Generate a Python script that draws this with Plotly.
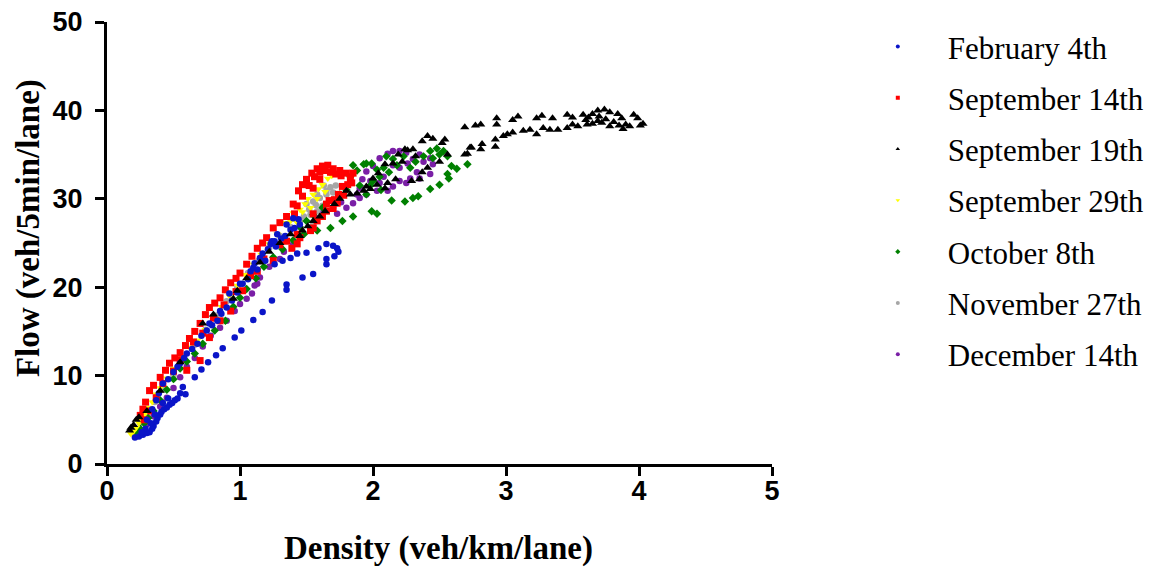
import plotly.graph_objects as go

# ---------------- data (density veh/km/lane, flow veh/5min/lane) ----------------
feb4_x = [0.21,0.24,0.27,0.30,0.32,0.34,0.35,0.37,0.38,0.40,0.41,0.43,0.45,0.47,0.49,0.51,0.53,0.55,0.57,0.42,0.46,0.36,0.33,0.29,0.26,
          0.59,0.66,0.71,0.76,0.82,0.87,0.96,1.01,1.10,1.17,1.24,1.35,1.35,1.47,1.55,1.65,1.65,1.71,1.74,1.73,1.70,1.65,1.59,1.50,1.43,1.38,1.32,1.26,
          0.30,0.34,0.37,0.39,0.42,0.46,0.50,0.53,0.55,0.58,0.60,0.64,0.68,0.71,0.75,0.77,0.79,0.83,0.85,0.86,0.90,0.92,0.94,0.98,1.00,1.02,1.06,1.08,
          1.10,1.11,1.15,1.17,1.21,1.23,1.24,1.26,1.28,1.31,1.34,1.35,1.38,1.41,1.40,1.44,1.45,1.19,1.13,1.27]
feb4_y = [3.0,3.1,3.3,3.5,3.6,4.0,4.3,4.8,5.2,5.6,5.9,6.2,6.4,6.7,6.9,7.2,7.4,8.0,8.7,6.9,7.4,5.6,4.6,4.0,3.6,
          7.9,9.8,10.7,11.5,12.3,13.1,14.3,15.1,16.3,17.2,18.5,19.7,20.3,21.1,21.5,22.6,23.2,23.5,24.0,24.4,24.7,24.9,24.4,23.9,23.8,23.3,23.0,22.6,
          5.0,6.2,7.2,8.0,9.1,9.6,10.4,11.0,11.4,12.0,12.5,13.0,13.6,14.5,15.1,15.9,15.7,16.2,17.3,17.0,17.7,19.3,18.5,19.4,20.4,20.4,20.9,21.8,
          22.2,22.7,23.3,23.8,24.3,24.9,25.2,25.2,26.0,25.5,25.8,27.1,26.5,26.7,27.8,27.7,27.1,23.0,22.0,24.6]

sep14_x = [0.25,0.27,0.29,0.32,0.35,0.40,0.44,0.47,0.51,0.55,0.59,0.62,0.66,0.70,0.74,0.77,0.81,0.85,0.89,0.93,0.97,1.00,1.05,1.09,1.13,1.17,1.20,1.25,1.30,1.35,1.40,1.44,
           1.41,1.43,1.47,1.47,1.50,1.54,1.58,1.62,1.66,1.70,1.75,1.80,1.83,1.84,1.81,1.77,1.74,1.73,1.70,1.65,1.62,1.58,1.55,1.53,1.45,1.43,1.39,
           1.52,1.56,1.60,1.64,1.68,1.72,1.76,1.60,1.55,1.67,1.71,1.78,1.85,
           0.42,0.60,0.70,0.77,0.85,0.93,1.02,1.13,1.25,1.35,1.43,1.55,1.65,1.73,0.28,0.33,0.37,0.50,0.55,0.65,0.72,0.80,0.88,0.97,1.08,1.18,1.30]
sep14_y = [5.5,6.2,7.0,8.3,8.9,9.8,10.6,11.4,12.0,12.6,13.4,14.2,15.0,15.9,16.9,17.7,18.2,18.8,19.7,20.5,21.0,21.6,22.6,23.5,24.4,25.0,25.6,26.7,27.3,28.0,29.4,30.9,
           28.3,29.2,30.3,31.6,32.2,32.9,33.4,33.7,33.8,33.4,33.2,32.9,32.3,31.8,31.6,31.4,30.5,29.5,28.9,28.6,28.0,27.5,26.7,26.4,25.6,24.9,24.4,
           31.5,32.5,33.0,33.2,33.0,32.8,32.6,32.2,31.2,29.8,29.9,30.4,32.9,
           9.1,10.6,11.7,14.3,16.2,17.3,19.6,21.8,23.0,25.2,26.0,28.3,29.4,29.7,5.0,6.0,7.5,10.5,11.8,13.8,14.8,16.5,18.0,19.5,21.3,23.2,24.8]

sep19_x = [0.17,0.18,0.20,0.22,0.24,0.30,0.40,0.55,0.72,0.80,0.95,0.98,1.05,1.15,1.22,1.30,1.38,1.45,1.47,1.51,1.55,1.60,1.64,1.71,1.75,1.80,1.83,1.88,1.93,1.95,
           1.98,2.03,2.00,2.04,2.09,2.11,2.17,2.09,2.15,2.19,2.22,2.24,2.29,2.35,2.37,2.41,2.26,2.30,2.32,2.37,2.41,2.45,2.50,2.52,2.54,2.56,2.69,2.71,2.73,2.74,
           2.81,2.82,2.92,2.92,2.98,3.01,3.05,3.13,3.18,3.23,3.28,3.33,3.39,3.46,3.50,3.54,3.61,3.65,3.69,2.69,2.77,2.81,2.93,2.93,3.05,3.09,3.23,3.27,3.35,
           3.46,3.50,3.58,3.62,3.65,3.69,3.74,3.78,3.84,3.87,3.90,3.96,3.99,4.03,4.01,3.93,3.85,3.81,3.75,3.70,3.72,3.60,3.78,3.88]
sep19_y = [3.8,4.1,4.4,5.0,5.3,6.0,8.3,11.5,15.9,16.9,18.7,19.6,21.0,22.8,24.0,25.0,26.0,25.8,26.4,26.9,27.5,28.0,28.6,29.4,30.0,30.9,30.5,30.6,30.9,31.4,
           31.1,31.6,32.3,32.9,31.2,31.8,32.2,33.9,34.0,35.0,34.2,35.6,32.0,32.2,33.0,33.5,35.5,35.6,34.8,36.5,37.1,36.8,34.2,36.3,36.7,35.0,35.0,35.1,35.8,35.8,
           35.6,36.2,35.9,36.7,37.1,37.3,37.5,37.7,37.8,37.3,38.0,37.8,37.8,38.0,38.4,38.2,38.4,38.5,38.8,38.1,38.3,38.4,39.1,38.4,38.9,39.3,39.1,39.4,39.1,
           39.5,39.2,39.5,39.2,39.6,40.0,40.1,39.8,39.6,39.1,38.4,39.5,39.1,38.5,38.3,38.2,38.3,38.7,39.0,39.3,38.6,38.9,38.2,37.9]

sep29_x = [0.18,0.20,0.22,0.24,0.26,0.28,0.31,0.34,0.37,0.40,0.45,0.50,0.56,0.62,0.68,0.74,0.80,0.86,0.92,0.98,1.04,1.10,1.16,1.22,1.28,1.34,1.40,
           1.43,1.45,1.49,1.51,1.55,1.59,1.62,1.66,1.69,1.64,1.58,1.53,1.47,1.38]
sep29_y = [3.4,3.7,4.1,4.6,5.0,5.6,6.4,7.0,7.9,8.6,9.7,10.8,12.2,13.2,14.0,15.2,16.5,17.8,19.0,20.2,21.4,22.6,23.7,24.9,26.0,27.3,28.4,
           27.3,28.8,29.4,30.0,30.5,31.1,31.6,32.3,32.6,30.8,30.0,29.0,28.5,27.5]

oct8_x = [0.22,0.25,0.28,0.31,0.35,0.40,0.45,0.50,0.55,0.60,0.66,0.72,0.81,0.89,0.95,1.00,1.05,1.12,1.18,1.25,1.32,1.40,1.48,1.58,1.68,1.77,1.85,1.99,2.03,
          2.14,2.24,2.30,2.34,2.43,2.50,2.56,2.57,2.63,2.59,2.71,2.56,2.53,2.48,2.43,2.38,2.32,2.23,2.10,1.99,1.93,1.85,1.95,2.03,2.05,2.00,1.98,2.08,2.12,
          2.06,1.95,1.90,1.80,1.75,1.70,1.62,1.55,1.50,1.45,2.18,2.15,2.28,2.45,2.50,1.88,1.83]
oct8_y = [3.6,4.0,4.6,5.2,6.0,7.2,8.4,9.6,10.8,11.6,12.5,13.6,15.1,16.2,17.8,18.8,19.8,21.0,22.3,23.4,24.3,25.3,26.0,26.4,26.7,27.5,28.0,28.6,28.3,
          29.8,29.7,30.1,30.3,31.1,31.6,32.8,32.3,33.4,33.7,33.9,34.8,35.4,35.7,35.4,34.8,34.2,34.8,34.8,34.0,33.9,33.8,34.0,33.3,32.5,32.0,31.5,33.5,33.0,
          31.0,30.5,31.5,31.0,30.5,29.8,29.0,28.2,27.5,26.8,33.8,34.5,33.5,34.6,35.0,33.2,32.5]

nov27_x = [0.20,0.25,0.30,0.36,0.42,0.50,0.58,0.66,0.74,0.82,0.90,0.98,1.06,1.14,1.22,1.30,1.38,1.45,1.50,1.53,1.55,1.55,1.58,1.58,1.60,1.62,1.65,1.65,
           1.68,1.70,1.52,1.48,1.72,1.63,1.57]
nov27_y = [3.6,4.6,5.8,7.0,8.4,10.0,11.8,13.5,15.2,16.8,18.4,20.0,21.6,23.0,24.5,25.8,26.8,27.5,29.4,28.2,27.1,29.7,28.6,30.5,30.1,29.2,30.5,30.9,
           31.3,30.7,28.8,28.0,31.5,31.5,29.3]

dec14_x = [0.30,0.35,0.40,0.45,0.50,0.55,0.60,0.66,0.72,0.78,0.85,0.90,0.96,1.00,1.05,1.09,1.11,1.13,1.15,1.22,1.30,1.33,1.40,1.45,1.55,1.58,1.62,1.73,
           1.80,1.85,1.90,1.95,2.03,2.11,2.15,2.20,2.28,2.35,2.43,2.45,2.43,2.35,2.26,2.20,2.15,2.11,2.15,2.20,2.05,2.00,1.95,1.92,1.90,1.88,2.25,2.30,
           2.38,2.08,2.05,1.98,2.25,2.33,1.70,1.76]
dec14_y = [4.5,5.4,6.5,7.5,8.6,9.8,11.0,12.0,13.3,14.5,15.4,16.2,17.3,18.1,18.7,19.3,20.2,20.4,21.1,22.3,23.2,24.0,24.9,25.8,26.9,27.8,28.4,28.3,
           29.0,29.5,30.1,30.5,30.9,30.9,31.4,32.0,32.3,32.3,32.8,33.9,34.6,35.0,34.0,33.5,33.8,35.1,35.4,35.4,34.6,33.7,33.1,32.2,31.2,30.5,35.2,34.5,
           34.2,32.5,31.8,32.0,31.8,33.0,29.0,29.6]

x_ticks = [0, 1, 2, 3, 4, 5]
y_ticks = [0, 10, 20, 30, 40, 50]
x_title = "Density (veh/km/lane)"
y_title = "Flow (veh/5min/lane)"

# ---------------- series styling ----------------
series = [
    # name, x, y, color, symbol, size, legend rank, draw order
    ("February 4th", feb4_x, feb4_y, "#0A14C8", "circle", 6.5, 1, 6),
    ("September 14th", sep14_x, sep14_y, "#FF0000", "square", 7, 2, 5),
    ("September 19th", sep19_x, sep19_y, "#000000", "triangle-up", 8, 3, 7),
    ("September 29th", sep29_x, sep29_y, "#FFFF00", "triangle-down", 7, 4, 4),
    ("October 8th", oct8_x, oct8_y, "#008000", "diamond", 6.5, 5, 3),
    ("November 27th", nov27_x, nov27_y, "#A6A6A6", "circle", 6.5, 6, 2),
    ("December 14th", dec14_x, dec14_y, "#7A1FA6", "circle", 6.5, 7, 1),
]

fig = go.Figure()
# data traces (drawing order)
for name, xs, ys, col, sym, sz, rank, order in sorted(series, key=lambda s: s[7]):
    fig.add_trace(go.Scatter(
        x=xs, y=ys, mode="markers", name=name, showlegend=False,
        marker=dict(color=col, symbol=sym, size=sz, line=dict(width=0)),
    ))
# legend entries with small markers, as in the original
for name, xs, ys, col, sym, sz, rank, order in series:
    fig.add_trace(go.Scatter(
        x=[None], y=[None], mode="markers", name=name,
        legendgroup=name, legendrank=rank, showlegend=True,
        marker=dict(color=col, symbol=sym, size=4, line=dict(width=0)),
    ))

tick_font = dict(family="Liberation Sans, Arial", size=27, color="black", weight="bold")
serif_bold = "Liberation Serif, Times New Roman"

# page body has an 8px margin: plot area sits at screen x 107..772, y 20..464
fig.update_layout(
    width=1156, height=569,
    margin=dict(l=99, r=392, t=12, b=113),
    paper_bgcolor="white", plot_bgcolor="white",
    showlegend=True,
    legend=dict(
        x=1.114, y=1.005, xanchor="left", yanchor="top",
        font=dict(family=serif_bold, size=31, color="black"),
        itemwidth=90, tracegroupgap=8, bgcolor="rgba(0,0,0,0)",
        maxheight=540,
    ),
    xaxis=dict(
        range=[0, 5], tickvals=x_ticks, ticktext=[str(v) for v in x_ticks],
        showline=True, linecolor="black", linewidth=3, automargin=False,
        ticks="outside", ticklen=9, tickwidth=3, tickcolor="black",
        showgrid=False, zeroline=False, tickfont=tick_font,
        ticklabelstandoff=-8, ticklabeloverflow="allow",
    ),
    yaxis=dict(
        range=[0, 50], tickvals=y_ticks, ticktext=[str(v) for v in y_ticks],
        showline=True, linecolor="black", linewidth=3, automargin=False,
        ticks="outside", ticklen=9, tickwidth=3, tickcolor="black",
        showgrid=False, zeroline=False, tickfont=tick_font,
        ticklabelstandoff=7, ticklabeloverflow="allow",
    ),
    annotations=[
        dict(text=x_title, xref="paper", yref="paper", x=0.4992, y=-0.1914,
             xanchor="center", yanchor="middle", showarrow=False,
             font=dict(family=serif_bold, size=33, color="black", weight="bold")),
        dict(text=y_title, xref="paper", yref="paper", x=-0.1188, y=0.5338,
             xanchor="center", yanchor="middle", showarrow=False, textangle=-90,
             font=dict(family=serif_bold, size=33, color="black", weight="bold")),
    ],
)

fig.write_html("out.html")
